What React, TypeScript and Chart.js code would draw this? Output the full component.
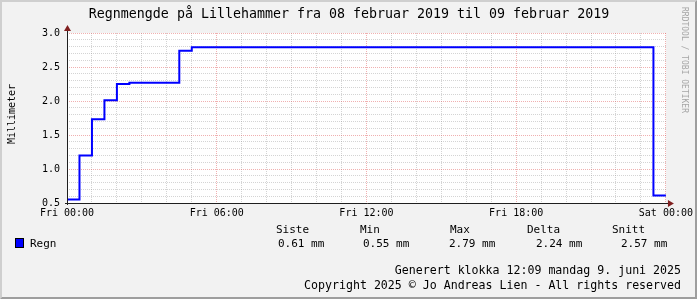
import React, { useEffect, useRef } from "react";
import { Chart, registerables } from "chart.js";

Chart.register(...registerables);

const FONT = "'DejaVu Sans Mono', monospace";

const title = "Regnmengde på Lillehammer fra 08 februar 2019 til 09 februar 2019";
const yAxisTitle = "Millimeter";
const seriesName = "Regn";
const unit = "mm";
const statLabels = ["Siste", "Min", "Max", "Delta", "Snitt"];
const xTickLabels = ["Fri 00:00", "Fri 06:00", "Fri 12:00", "Fri 18:00", "Sat 00:00"];
const footerLines = [
  "Generert klokka 12:09 mandag 9. juni 2025",
  "Copyright 2025 © Jo Andreas Lien - All rights reserved",
];
const watermark = "RRDTOOL / TOBI OETIKER";

// start of each 30-minute interval, in hours since Fri 00:00
const hours = [
  0, 0.5, 1, 1.5, 2, 2.5, 3, 3.5, 4, 4.5, 5, 5.5, 6, 6.5, 7, 7.5, 8, 8.5, 9, 9.5,
  10, 10.5, 11, 11.5, 12, 12.5, 13, 13.5, 14, 14.5, 15, 15.5, 16, 16.5, 17, 17.5,
  18, 18.5, 19, 19.5, 20, 20.5, 21, 21.5, 22, 22.5, 23, 23.5,
];
const endHour = 24;

// accumulated rain (mm)
const rain = [
  0.55, 1.2, 1.73, 2.01, 2.25, 2.27, 2.27, 2.27, 2.27, 2.74,
  2.79, 2.79, 2.79, 2.79, 2.79, 2.79, 2.79, 2.79, 2.79, 2.79,
  2.79, 2.79, 2.79, 2.79, 2.79, 2.79, 2.79, 2.79, 2.79, 2.79,
  2.79, 2.79, 2.79, 2.79, 2.79, 2.79, 2.79, 2.79, 2.79, 2.79,
  2.79, 2.79, 2.79, 2.79, 2.79, 2.79, 2.79, 0.61,
];

const isMajorY = (v: number) => Math.abs(v * 2 - Math.round(v * 2)) < 1e-6;
const isMajorX = (v: number) => Math.abs(v / 6 - Math.round(v / 6)) < 1e-6;

const MINOR = "rgba(143,143,143,0.38)";
const MAJOR = "rgba(222,79,79,0.45)";

const rrdPlugin = {
  id: "rrdDecor",
  beforeDraw(chart: any) {
    const { ctx, width, height, chartArea: a } = chart;
    ctx.save();
    ctx.fillStyle = "#f2f2f2";
    ctx.fillRect(0, 0, width, height);
    ctx.fillStyle = "#ffffff";
    ctx.fillRect(a.left, a.top, a.right - a.left, a.bottom - a.top);
    ctx.restore();
  },
  afterDraw(chart: any) {
    const { ctx, width, height, chartArea: a } = chart;
    ctx.save();

    // axes
    ctx.strokeStyle = "#1f1f1f";
    ctx.lineWidth = 1;
    ctx.beginPath();
    ctx.moveTo(a.left - 2, a.bottom + 0.5);
    ctx.lineTo(a.right + 4, a.bottom + 0.5);
    ctx.moveTo(a.left + 0.5, a.bottom + 2);
    ctx.lineTo(a.left + 0.5, a.top - 4);
    ctx.stroke();

    // arrows
    ctx.fillStyle = "#801f1f";
    ctx.beginPath();
    ctx.moveTo(a.right + 8, a.bottom + 0.5);
    ctx.lineTo(a.right + 2, a.bottom - 3);
    ctx.lineTo(a.right + 2, a.bottom + 4);
    ctx.closePath();
    ctx.fill();
    ctx.beginPath();
    ctx.moveTo(a.left + 0.5, a.top - 8);
    ctx.lineTo(a.left - 3, a.top - 2);
    ctx.lineTo(a.left + 4, a.top - 2);
    ctx.closePath();
    ctx.fill();

    // title
    ctx.fillStyle = "#000";
    ctx.font = `13.3px ${FONT}`;
    ctx.textAlign = "center";
    ctx.textBaseline = "alphabetic";
    ctx.fillText(title, 349, 18);

    // y axis title
    ctx.save();
    ctx.translate(15, 114);
    ctx.rotate(-Math.PI / 2);
    ctx.font = `10px ${FONT}`;
    ctx.textAlign = "center";
    ctx.textBaseline = "alphabetic";
    ctx.fillText(yAxisTitle, 0, 0);
    ctx.restore();

    // watermark
    ctx.save();
    ctx.translate(684, 60);
    ctx.rotate(Math.PI / 2);
    ctx.font = `8px ${FONT}`;
    ctx.fillStyle = "#a6a6a6";
    ctx.textAlign = "center";
    ctx.textBaseline = "middle";
    ctx.fillText(watermark, 0, 0);
    ctx.restore();

    // legend
    const last = rain[rain.length - 1];
    const mn = Math.min(...rain);
    const mx = Math.max(...rain);
    const avg = rain.reduce((s, v) => s + v, 0) / rain.length;
    const stats = [last, mn, mx, mx - mn, avg].map((v) => `${v.toFixed(2)} ${unit}`);
    const headerX = [276, 360, 450, 527, 612];
    const valueX = [278, 363, 449, 536, 621];
    ctx.font = `11px ${FONT}`;
    ctx.textAlign = "left";
    ctx.fillStyle = "#000";
    statLabels.forEach((s, i) => ctx.fillText(s, headerX[i], 233));
    stats.forEach((s, i) => ctx.fillText(s, valueX[i], 247));
    ctx.fillStyle = "#0000ff";
    ctx.fillRect(15, 238, 9, 10);
    ctx.strokeStyle = "#000";
    ctx.strokeRect(15.5, 238.5, 8, 9);
    ctx.fillStyle = "#000";
    ctx.fillText(seriesName, 30, 247);

    // footer
    ctx.font = `11.6px ${FONT}`;
    ctx.textAlign = "right";
    ctx.fillText(footerLines[0], 681, 274);
    ctx.fillText(footerLines[1], 681, 289);

    // frame shading
    ctx.fillStyle = "#cfcfcf";
    ctx.beginPath();
    ctx.moveTo(0, height);
    ctx.lineTo(2, height - 2);
    ctx.lineTo(2, 2);
    ctx.lineTo(width - 2, 2);
    ctx.lineTo(width, 0);
    ctx.lineTo(0, 0);
    ctx.closePath();
    ctx.fill();
    ctx.fillStyle = "#9e9e9e";
    ctx.beginPath();
    ctx.moveTo(0, height);
    ctx.lineTo(2, height - 2);
    ctx.lineTo(width - 2, height - 2);
    ctx.lineTo(width - 2, 2);
    ctx.lineTo(width, 0);
    ctx.lineTo(width, height);
    ctx.closePath();
    ctx.fill();

    ctx.restore();
  },
};

export default function App() {
  const canvasRef = useRef<HTMLCanvasElement | null>(null);

  useEffect(() => {
    const canvas = canvasRef.current;
    if (!canvas) return;
    const points = hours.map((h, i) => ({ x: h, y: rain[i] }));
    points.push({ x: endHour, y: rain[rain.length - 1] });

    const chart = new Chart(canvas, {
      type: "line",
      data: {
        datasets: [
          {
            label: seriesName,
            data: points,
            borderColor: "#0000ff",
            backgroundColor: "#0000ff",
            borderWidth: 2,
            pointRadius: 0,
            stepped: "before",
            fill: false,
            borderJoinStyle: "miter",
            borderCapStyle: "butt",
            clip: false as any,
          },
        ],
      },
      options: {
        animation: false,
        responsive: false,
        devicePixelRatio: 1,
        layout: { padding: { top: 33, right: 30, left: 0, bottom: 0 } },
        plugins: {
          legend: { display: false },
          title: { display: false },
          tooltip: { enabled: false },
        },
        scales: {
          x: {
            type: "linear",
            min: 0,
            max: 24,
            ticks: {
              stepSize: 1,
              autoSkip: false,
              maxRotation: 0,
              minRotation: 0,
              padding: 4,
              color: "#000",
              font: { size: 10, family: FONT },
              callback: (v: any) => (isMajorX(Number(v)) ? xTickLabels[Math.round(Number(v) / 6)] : ""),
            },
            grid: {
              drawTicks: false,
              lineWidth: 1,
              color: (c: any) => (isMajorX(c.tick.value) ? MAJOR : MINOR),
            },
            border: { display: false, dash: [1, 1] },
            afterFit: (s: any) => {
              s.height = 96;
            },
          },
          y: {
            type: "linear",
            min: 0.5,
            max: 3.0,
            ticks: {
              stepSize: 0.1,
              autoSkip: false,
              padding: 7,
              color: "#000",
              font: { size: 10, family: FONT },
              callback: (v: any) => (isMajorY(Number(v)) ? Number(v).toFixed(1) : ""),
            },
            grid: {
              drawTicks: false,
              lineWidth: 1,
              color: (c: any) => (isMajorY(c.tick.value) ? MAJOR : MINOR),
            },
            border: { display: false, dash: [1, 1] },
            afterFit: (s: any) => {
              s.width = 67;
            },
          },
        },
      },
      plugins: [rrdPlugin],
    } as any);

    return () => chart.destroy();
  }, []);

  return (
    <div style={{ position: "absolute", left: 0, top: 0, width: 697, height: 299 }}>
      <canvas ref={canvasRef} width={697} height={299} style={{ display: "block", width: 697, height: 299 }} />
    </div>
  );
}
